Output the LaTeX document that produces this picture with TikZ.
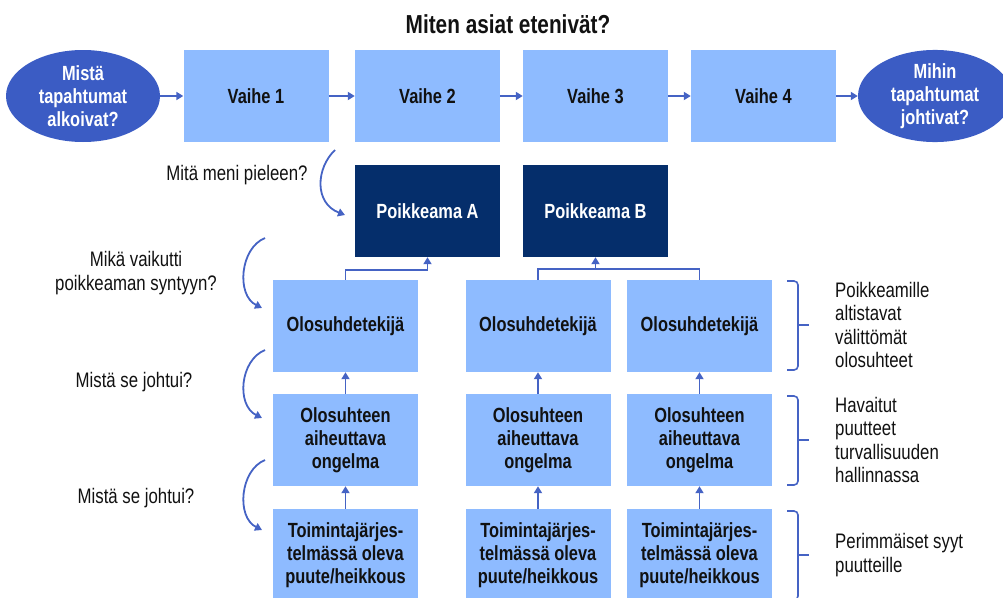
\documentclass[tikz,border=0pt]{standalone}
\usepackage{fontspec}
\setmainfont{Liberation Sans}[FakeStretch=0.8]
\usetikzlibrary{arrows.meta,shapes.geometric}
\definecolor{lightbox}{HTML}{8EBBFF}
\definecolor{ellblue}{HTML}{3B5CC4}
\definecolor{navy}{HTML}{052E6B}
\definecolor{arrowblue}{HTML}{4563C4}
\definecolor{txt}{HTML}{111111}
\begin{document}
\begin{tikzpicture}[x=1pt,y=-1pt,
  box/.style={rectangle, fill=lightbox, minimum width=145pt, minimum height=92pt, inner sep=0pt, align=center, font=\bfseries\fontsize{20.5}{23}\selectfont, text=txt},
  dbox/.style={box, fill=navy, text=white},
  ell/.style={ellipse, fill=ellblue, minimum width=154pt, minimum height=92pt, inner sep=0pt, align=center, text=white, font=\bfseries\fontsize{20.5}{23}\selectfont},
  arr/.style={draw=arrowblue, line width=1.8pt, -{Triangle[length=7pt,width=8pt]}},
  conn/.style={draw=arrowblue, line width=1.8pt},
  side/.style={align=center, font=\fontsize{21}{23.5}\selectfont, text=txt},
  note/.style={align=left, anchor=west, inner sep=0pt, font=\fontsize{21}{23.5}\selectfont, text=txt},
  brace/.style={draw=arrowblue, line width=1.6pt, rounded corners=4pt}]
\useasboundingbox (0,0) rectangle (1003,597);

\node[font=\bfseries\fontsize{26}{28}\selectfont, text=txt] (title) at (508,24) {Miten asiat etenivät?};

% top row
\node[ell] (e1) at (83,96) {Mistä\\tapahtumat\\alkoivat?};
\node[box] (v1) at (256,96) {Vaihe 1};
\node[box] (v2) at (427.5,96) {Vaihe 2};
\node[box] (v3) at (595.5,96) {Vaihe 3};
\node[box] (v4) at (763.5,96) {Vaihe 4};
\node[ell] (e2) at (935,96) {Mihin\\tapahtumat\\johtivat?};
\draw[arr] (e1.east) -- (v1.west);
\draw[arr] (v1.east) -- (v2.west);
\draw[arr] (v2.east) -- (v3.west);
\draw[arr] (v3.east) -- (v4.west);
\draw[arr] (v4.east) -- (e2.west);

% deviations
\node[dbox] (pA) at (427.5,211) {Poikkeama A};
\node[dbox] (pB) at (595.5,211) {Poikkeama B};

% condition row
\node[box] (o1) at (345.5,326) {Olosuhdetekijä};
\node[box] (o2) at (538,326) {Olosuhdetekijä};
\node[box] (o3) at (699.5,326) {Olosuhdetekijä};

\node[box] (g1) at (345.5,440) {Olosuhteen\\aiheuttava\\ongelma};
\node[box] (g2) at (538,440) {Olosuhteen\\aiheuttava\\ongelma};
\node[box] (g3) at (699.5,440) {Olosuhteen\\aiheuttava\\ongelma};

\node[box] (t1) at (345.5,555) {Toimintajärjes-\\telmässä oleva\\puute/heikkous};
\node[box] (t2) at (538,555) {Toimintajärjes-\\telmässä oleva\\puute/heikkous};
\node[box] (t3) at (699.5,555) {Toimintajärjes-\\telmässä oleva\\puute/heikkous};

% connectors up
\coordinate (jA) at (427.5,270);
\draw[conn] (o1.north) |- (jA);
\draw[arr] (jA) -- (pA.south);
\coordinate (jB) at (595.5,269);
\draw[conn] (o2.north) |- (jB) -| (o3.north);
\draw[arr] (jB) -- (pB.south);

\draw[arr] (g1.north) -- (o1.south);
\draw[arr] (g2.north) -- (o2.south);
\draw[arr] (g3.north) -- (o3.south);
\draw[arr] (t1.north) -- (g1.south);
\draw[arr] (t2.north) -- (g2.south);
\draw[arr] (t3.north) -- (g3.south);

% questions with curved arrows
\node[side] (q1) at (237,175) {Mitä meni pieleen?};
\coordinate (c1s) at (335,150); \coordinate (c1e) at (345,215);
\draw[arr] (c1s) .. controls (316,168) and (314,203) .. (c1e);

\node[side] (q2) at (136,273) {Mikä vaikutti\\poikkeaman syntyyn?};
\coordinate (c2s) at (265,238); \coordinate (c2e) at (262,308);
\draw[arr] (c2s) .. controls (240,248) and (236,295) .. (c2e);

\node[side] (q3) at (134,382) {Mistä se johtui?};
\coordinate (c3s) at (265,350); \coordinate (c3e) at (262,418);
\draw[arr] (c3s) .. controls (240,360) and (236,405) .. (c3e);

\node[side] (q4) at (136,498) {Mistä se johtui?};
\coordinate (c4s) at (265,460); \coordinate (c4e) at (262,530);
\draw[arr] (c4s) .. controls (240,470) and (236,517) .. (c4e);

% braces
\draw[brace] (787,281) -- (798,281) -- (798,370) -- (787,370);
\draw[draw=arrowblue, line width=1.6pt] (798,325) -- (809,325);
\draw[brace] (787,396) -- (798,396) -- (798,485) -- (787,485);
\draw[draw=arrowblue, line width=1.6pt] (798,440) -- (809,440);
\draw[brace] (787,511) -- (798,511) -- (798,600) -- (787,600);
\draw[draw=arrowblue, line width=1.6pt] (798,555) -- (809,555);

\node[note] (n1) at (835,325) {Poikkeamille\\altistavat\\välittömät\\olosuhteet};
\node[note] (n2) at (835,440) {Havaitut\\puutteet\\turvallisuuden\\hallinnassa};
\node[note] (n3) at (835,555) {Perimmäiset syyt\\puutteille};
\end{tikzpicture}
\end{document}
